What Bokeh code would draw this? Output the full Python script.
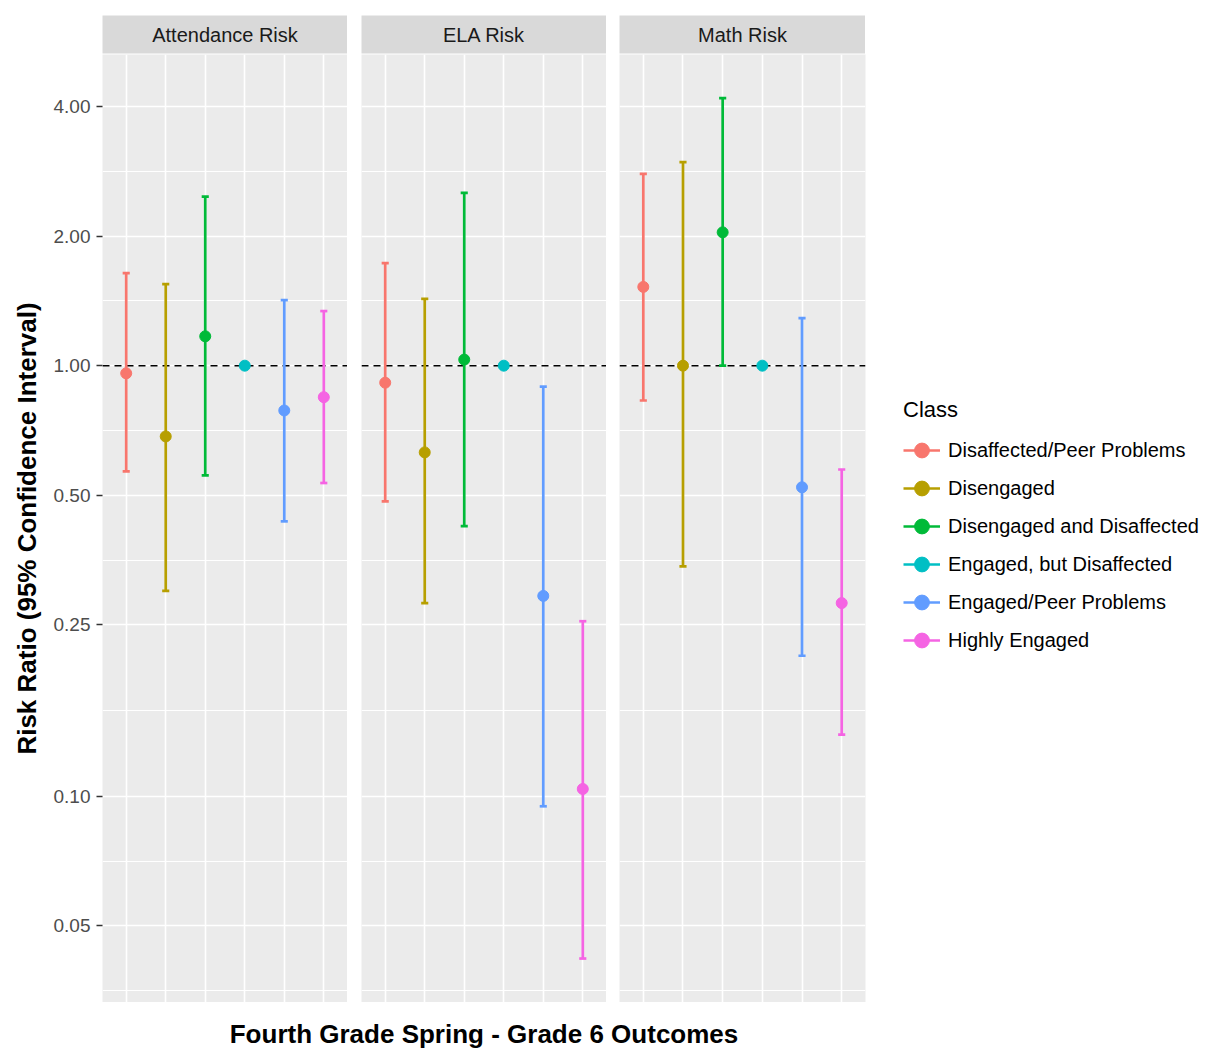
import numpy as np
from bokeh.plotting import figure
from bokeh.models import (ColumnDataSource, FactorRange, Range1d, FixedTicker,
                          NumeralTickFormatter, Span, Legend, LegendItem, CategoricalTicker)
from bokeh.layouts import column, row
from bokeh.transform import dodge
from bokeh.embed import file_html
from bokeh.resources import INLINE
from bokeh.core.properties import value

# ---------------- data ----------------
classes = ["Disaffected/Peer Problems", "Disengaged", "Disengaged and Disaffected",
           "Engaged, but Disaffected", "Engaged/Peer Problems", "Highly Engaged"]
class_colors = ["#F8766D", "#B79F00", "#00BA38", "#00BFC4", "#619CFF", "#F564E3"]
outcomes = ["Attendance Risk", "ELA Risk", "Math Risk"]

rr_attendance = [0.96, 0.685, 1.17, 1.00, 0.787, 0.845]
lo_attendance = [0.568, 0.30, 0.556, 1.00, 0.435, 0.534]
hi_attendance = [1.64, 1.546, 2.47, 1.00, 1.42, 1.339]

rr_ela = [0.913, 0.629, 1.033, 1.00, 0.292, 0.104]
lo_ela = [0.484, 0.281, 0.424, 1.00, 0.0948, 0.042]
hi_ela = [1.73, 1.43, 2.52, 1.00, 0.894, 0.255]

rr_math = [1.524, 1.00, 2.04, 1.00, 0.522, 0.281]
lo_math = [0.83, 0.342, 1.00, 1.00, 0.212, 0.139]
hi_math = [2.79, 2.97, 4.18, 1.00, 1.29, 0.574]

y_ticks = [0.05, 0.10, 0.25, 0.50, 1.00, 2.00, 4.00]
reference_ratio = 1.0

x_title = "Fourth Grade Spring - Grade 6 Outcomes"
y_title = "Risk Ratio (95% Confidence Interval)"
legend_title = "Class"

# ---------------- styling ----------------
FONT = "Liberation Sans"
PANEL_BG = "#EBEBEB"
STRIP_BG = "#D9D9D9"
Y_START, Y_END = 0.0332, 5.28

yt = np.array(y_ticks)
y_minor = list(np.sqrt(yt[:-1] * yt[1:])) + [yt[0] * np.sqrt(yt[0] / yt[1])]

series = {
    "Attendance Risk": (rr_attendance, lo_attendance, hi_attendance),
    "ELA Risk": (rr_ela, lo_ela, hi_ela),
    "Math Risk": (rr_math, lo_math, hi_math),
}

left_borders = [102, 14, 13]
frame_widths = [245, 245, 246]
FRAME_H = 948

strips = []
panels = []
last_renderers = None

for i, outcome in enumerate(outcomes):
    # strip (facet label)
    s = figure(x_range=Range1d(0, 1), y_range=Range1d(0, 1),
               frame_width=frame_widths[i], frame_height=38,
               min_border_left=left_borders[i], min_border_right=0,
               min_border_top=15, min_border_bottom=1,
               x_axis_location=None, y_axis_location=None,
               background_fill_color=STRIP_BG, border_fill_color="white",
               outline_line_color=None, toolbar_location=None, output_backend="svg")
    s.xgrid.visible = False
    s.ygrid.visible = False
    s.text(x=[0.5], y=[0.5], text=[outcome], text_align="center", text_baseline="middle",
           text_font=value(FONT), text_font_size="20px", text_color="#1A1A1A")
    strips.append(s)

    rr, lo, hi = series[outcome]
    src = ColumnDataSource(dict(cls=classes, rr=rr, lo=lo, hi=hi, color=class_colors))

    p = figure(x_range=FactorRange(*classes, range_padding=0.1, range_padding_units="absolute"),
               y_range=Range1d(Y_START, Y_END), y_axis_type="log",
               x_axis_location=None,
               y_axis_location="left" if i == 0 else None,
               frame_width=frame_widths[i], frame_height=FRAME_H,
               min_border_left=left_borders[i], min_border_right=0,
               min_border_top=0, min_border_bottom=0,
               background_fill_color=PANEL_BG, border_fill_color="white",
               outline_line_color=None, toolbar_location=None, output_backend="svg")

    ticker = FixedTicker(ticks=y_ticks, minor_ticks=y_minor)
    p.ygrid.ticker = ticker
    p.ygrid.grid_line_color = "white"
    p.ygrid.grid_line_width = 1.6
    p.ygrid.minor_grid_line_color = "white"
    p.ygrid.minor_grid_line_width = 1.0
    p.xgrid.ticker = CategoricalTicker()
    p.xgrid.grid_line_color = "white"
    p.xgrid.grid_line_width = 1.6

    if i == 0:
        ax = p.yaxis[0]
        ax.ticker = ticker
        ax.formatter = NumeralTickFormatter(format="0.00")
        ax.axis_line_color = None
        ax.major_tick_out = 6
        ax.major_tick_in = 0
        ax.major_tick_line_color = "#333333"
        ax.major_tick_line_width = 1.5
        ax.minor_tick_line_color = None
        ax.major_label_text_font = FONT
        ax.major_label_text_font_size = "19px"
        ax.major_label_text_color = "#4D4D4D"
        ax.major_label_standoff = 6
        ax.axis_label = y_title
        ax.axis_label_text_font = FONT
        ax.axis_label_text_font_size = "26px"
        ax.axis_label_text_font_style = "bold"
        ax.axis_label_text_color = "black"
        ax.axis_label_standoff = 9

    ref = Span(location=reference_ratio, dimension="width", line_color="black",
               line_width=1.6, line_dash="7 5", level="underlay")
    p.add_layout(ref)

    bars = p.segment(x0="cls", y0="lo", x1="cls", y1="hi", source=src,
                     line_color="color", line_width=2.7)
    p.segment(x0=dodge("cls", -0.09, range=p.x_range), y0="lo",
              x1=dodge("cls", 0.09, range=p.x_range), y1="lo", source=src,
              line_color="color", line_width=2.7)
    p.segment(x0=dodge("cls", -0.09, range=p.x_range), y0="hi",
              x1=dodge("cls", 0.09, range=p.x_range), y1="hi", source=src,
              line_color="color", line_width=2.7)
    pts = p.scatter(x="cls", y="rr", source=src, size=11, marker="circle",
                    fill_color="color", line_color="color")
    panels.append(p)
    last_renderers = (bars, pts)

# legend on the last panel
bars, pts = last_renderers
items = [LegendItem(label=c, renderers=[bars, pts], index=k) for k, c in enumerate(classes)]
legend = Legend(items=items, location="center_left", title=legend_title,
                title_text_font=FONT, title_text_font_size="22px",
                title_text_font_style="normal", title_text_color="black",
                title_standoff=8,
                label_text_font=FONT, label_text_font_size="20px", label_text_color="black",
                glyph_width=37, glyph_height=38, label_height=38, label_standoff=8,
                spacing=0, padding=0, margin=38,
                border_line_color=None, background_fill_color="white")
panels[2].add_layout(legend, "right")

# shared x-axis title spanning all three facets
footer = figure(x_range=Range1d(0, 1), y_range=Range1d(0, 1),
                frame_width=sum(frame_widths) + left_borders[1] + left_borders[2],
                frame_height=1, min_border_left=left_borders[0], min_border_right=0,
                min_border_top=0, min_border_bottom=0,
                x_axis_location="below", y_axis_location=None,
                background_fill_color="white", border_fill_color="white",
                outline_line_color=None, toolbar_location=None, output_backend="svg")
footer.xgrid.visible = False
footer.ygrid.visible = False
fa = footer.xaxis[0]
fa.ticker = FixedTicker(ticks=[])
fa.axis_line_color = None
fa.major_tick_line_color = None
fa.minor_tick_line_color = None
fa.major_tick_out = 0
fa.major_label_standoff = 0
fa.axis_label = x_title
fa.axis_label_text_font = FONT
fa.axis_label_text_font_size = "26px"
fa.axis_label_text_font_style = "bold"
fa.axis_label_text_color = "black"
fa.axis_label_standoff = 15

layout = column(row(*strips, spacing=0), row(*panels, spacing=0), footer, spacing=0)

open("out.html", "w").write(file_html(layout, INLINE))
